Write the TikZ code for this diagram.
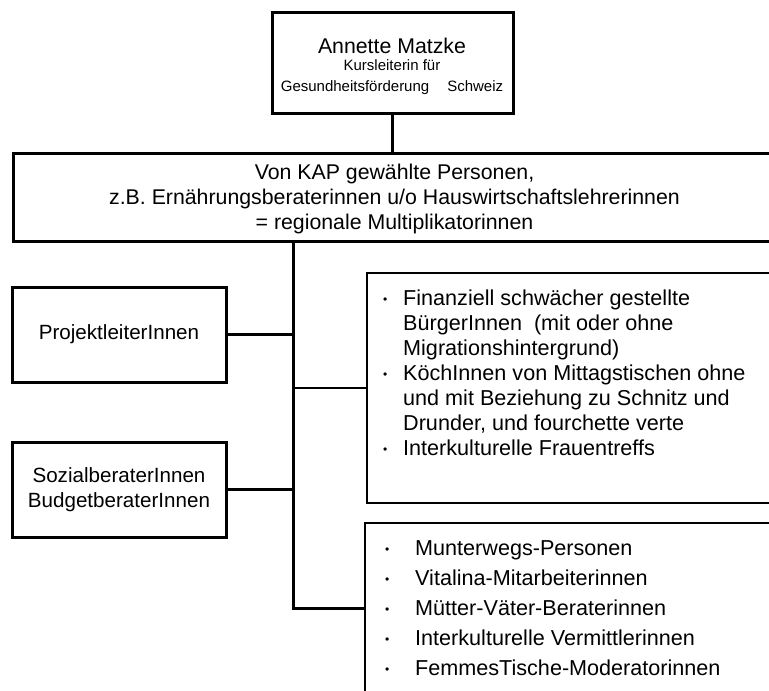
\documentclass[tikz,border=0pt]{standalone}
\usepackage{fontspec}
\setmainfont{Liberation Sans}
\usepackage{array}
\newcommand{\punkt}{\raisebox{1.5pt}{\fontsize{12}{12}\selectfont\textbullet}}
\tikzset{
  dickbox/.style={draw, line width=3pt, inner sep=0pt, align=center},
  listbox/.style={draw, line width=1.5pt, inner sep=0pt},
  txt/.style={inner sep=0pt, align=center},
  link/.style={line width=3pt},
  dünnlink/.style={line width=2pt}
}
\begin{document}
\begin{tikzpicture}[x=1pt, y=-1pt]
      \useasboundingbox (0,0) rectangle (769,691);
      % Leitung oben
      \node[dickbox, minimum width=241pt, minimum height=101pt] (annette) at (392.5,62.5) {};
      \node[txt, anchor=base, font=\fontsize{15}{21}\selectfont] (annettetext) at (392,91)
        {{\fontsize{21.3}{21}\selectfont Annette Matzke}\\[-4pt]
         Kursleiterin für\\
         Gesundheitsförderung\hspace{18pt}Schweiz};
      % Multiplikatorinnen
      \node[dickbox, minimum width=777pt, minimum height=88pt] (kap) at (401.5,197) {};
      \node[txt, anchor=base, font=\fontsize{21.3}{25}\selectfont] (kaptext) at (394.5,229)
        {Von KAP gewählte Personen,\\
         z.B. Ernährungsberaterinnen u/o Hauswirtschaftslehrerinnen\\
         = regionale Multiplikatorinnen};
      % linke Seite
      \node[dickbox, minimum width=214pt, minimum height=95pt,
        font=\fontsize{20.6}{25}\selectfont] (projekt) at (119,334.5) {ProjektleiterInnen};
      \node[dickbox, minimum width=214pt, minimum height=95pt,
        font=\fontsize{20.6}{25}\selectfont] (sozial) at (119,489.5)
        {SozialberaterInnen\\BudgetberaterInnen};
      % rechte Seite
      \node[listbox, minimum width=420pt, minimum height=230pt] (liste1) at (577,388) {};
      \node[listbox, minimum width=420pt, minimum height=170pt] (liste2) at (575,608) {};
      \node[inner sep=0pt, anchor=base west, font=\fontsize{21.6}{25}\selectfont] (gruppen1) at (383,305)
        {\begin{tabular}[t]{@{}p{20pt}@{}p{370pt}@{}}
          \punkt & Finanziell schwächer gestellte\newline BürgerInnen\ \ (mit oder ohne\newline Migrationshintergrund)\\[7pt]
          \punkt & KöchInnen von Mittagstischen ohne\newline und mit Beziehung zu Schnitz und\newline Drunder, und fourchette verte\\[5pt]
          \punkt & Interkulturelle Frauentreffs
        \end{tabular}};
      \node[inner sep=0pt, anchor=base west, font=\fontsize{21.6}{30}\selectfont] (gruppen2) at (385,555)
        {\begin{tabular}[t]{@{}p{30pt}@{}p{360pt}@{}}
          \punkt & Munterwegs-Personen\\
          \punkt & Vitalina-Mitarbeiterinnen\\
          \punkt & Mütter-Väter-Beraterinnen\\
          \punkt & Interkulturelle Vermittlerinnen\\
          \punkt & FemmesTische-Moderatorinnen
        \end{tabular}};
      % Verbindungen
      \coordinate (stamm) at (293,241);
      \draw[link] (annette.south) -- (annette.south |- kap.north);
      \draw[link] (projekt.east) -- (projekt.east -| stamm);
      \draw[link] (sozial.east) -- (sozial.east -| stamm);
      \draw[dünnlink] (liste1.west) -- (liste1.west -| stamm);
      \draw[link] (stamm) |- (liste2.west);
    \end{tikzpicture}
\end{document}
